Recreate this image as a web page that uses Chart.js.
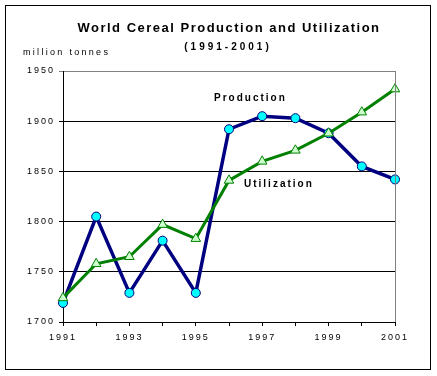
<!DOCTYPE html>
<html>
<head>
<meta charset="utf-8">
<script src="https://cdn.jsdelivr.net/npm/chart.js@4/dist/chart.umd.min.js"></script>
<style>
  html, body { margin: 0; padding: 0; background: #fff; }
  #wrap { width: 437px; height: 376px; }
</style>
</head>
<body>
<div id="wrap"><canvas id="chart" width="437" height="376"></canvas></div>
<script>
// --- DATOS ---
const years = ['1991','1992','1993','1994','1995','1996','1997','1998','1999','2000','2001'];
const production = [1719, 1805, 1729, 1781, 1729, 1892, 1905, 1903, 1888, 1855, 1842];
const utilization = [1724, 1758, 1765, 1797, 1783, 1841, 1860, 1871, 1888, 1909, 1932];
const yTicks = [1700, 1750, 1800, 1850, 1900, 1950];

const TITLE = 'World Cereal Production and Utilization';
const SUBTITLE = '(1991-2001)';
const UNITS = 'million tonnes';
const LABEL_PROD = 'Production';
const LABEL_UTIL = 'Utilization';

const FONT = '"Liberation Sans", Arial, sans-serif';

// --- TEXTOS Y MARCO ---
const decorPlugin = {
  id: 'decor',
  beforeDraw(chart) {
    const ctx = chart.ctx;
    ctx.save();
    ctx.fillStyle = '#fff';
    ctx.fillRect(0, 0, chart.width, chart.height);
    ctx.restore();
    // espaciado de letras para los ticks
    ctx.letterSpacing = '2px';
  },
  afterDatasetsDraw(chart) {
    const ctx = chart.ctx;
    const a = chart.chartArea;
    ctx.save();
    // borde derecho gris del area
    ctx.strokeStyle = '#808080';
    ctx.lineWidth = 1;
    ctx.beginPath();
    ctx.moveTo(Math.round(a.right) + 0.5, a.top);
    ctx.lineTo(Math.round(a.right) + 0.5, a.bottom);
    ctx.stroke();
    ctx.restore();
  },
  afterDraw(chart) {
    const ctx = chart.ctx;
    ctx.save();
    ctx.strokeStyle = '#000';
    ctx.lineWidth = 1;
    ctx.strokeRect(5.5, 5.5, 425, 364);

    ctx.fillStyle = '#000';
    ctx.textBaseline = 'middle';
    ctx.textAlign = 'center';

    ctx.letterSpacing = '1.5px';
    ctx.font = 'bold 13px ' + FONT;
    ctx.fillText(TITLE, 229, 28);

    ctx.letterSpacing = '3px';
    ctx.font = 'bold 10px ' + FONT;
    ctx.fillText(SUBTITLE, 228, 47);

    ctx.textAlign = 'left';
    ctx.letterSpacing = '2.3px';
    ctx.font = '9px ' + FONT;
    ctx.fillText(UNITS, 23, 53);

    ctx.letterSpacing = '2px';
    ctx.font = 'bold 10px ' + FONT;
    ctx.fillText(LABEL_PROD, 214, 98);
    ctx.fillText(LABEL_UTIL, 244, 184);
    ctx.restore();
  }
};

const ctx = document.getElementById('chart').getContext('2d');
const chart = new Chart(ctx, {
  type: 'line',
  data: {
    labels: years,
    datasets: [
      {
        label: LABEL_UTIL,
        data: utilization,
        borderColor: '#008000',
        borderWidth: 3,
        pointStyle: 'triangle',
        pointRadius: 5.5,
        pointBackgroundColor: '#CCFFCC',
        pointBorderColor: '#008000',
        pointBorderWidth: 1,
        tension: 0
      },
      {
        label: LABEL_PROD,
        data: production,
        borderColor: '#000080',
        borderWidth: 3.5,
        pointStyle: 'circle',
        pointRadius: 4.5,
        pointBackgroundColor: '#00FFFF',
        pointBorderColor: '#000080',
        pointBorderWidth: 1,
        tension: 0
      }
    ]
  },
  options: {
    responsive: false,
    animation: false,
    events: [],
    layout: { padding: { left: 0, top: 71, right: 42, bottom: 24 } },
    plugins: {
      legend: { display: false },
      title: { display: false },
      tooltip: { enabled: false }
    },
    scales: {
      x: {
        type: 'category',
        offset: false,
        afterFit: s => { s.height = 30; },
        grid: {
          drawOnChartArea: false,
          drawTicks: true,
          tickLength: 4,
          color: '#000',
          offset: false
        },
        border: { color: '#000', width: 1 },
        ticks: {
          autoSkip: false,
          maxRotation: 0,
          padding: 6,
          color: '#000',
          font: { family: FONT, size: 9 },
          callback: function (v, i) { return i % 2 === 0 ? years[i] : ''; }
        }
      },
      y: {
        min: yTicks[0],
        max: yTicks[yTicks.length - 1],
        afterFit: s => { s.width = 63; },
        afterBuildTicks: s => { s.ticks = yTicks.map(v => ({ value: v })); },
        grid: {
          drawTicks: true,
          tickLength: 4,
          color: c => (c.tick && c.tick.value === 1950 ? '#808080' : '#000'),
          lineWidth: 1
        },
        border: { color: '#000', width: 1 },
        ticks: {
          padding: 4,
          color: '#000',
          font: { family: FONT, size: 9 },
          callback: v => String(v)
        }
      }
    }
  },
  plugins: [decorPlugin]
});
</script>
</body>
</html>
